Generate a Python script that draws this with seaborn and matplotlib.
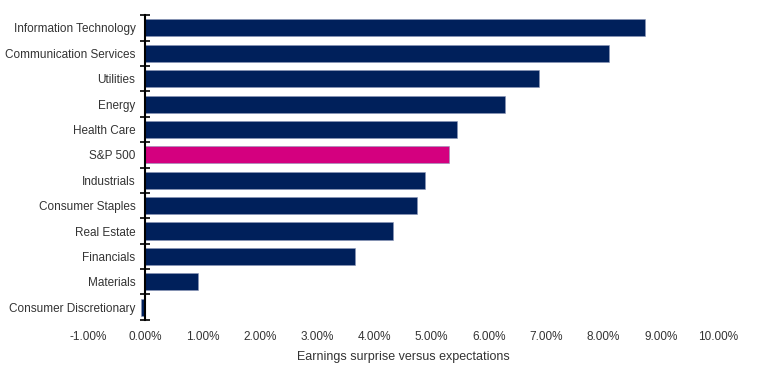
import numpy as np
import pandas as pd
import seaborn as sns
import matplotlib.pyplot as plt
from matplotlib.ticker import FixedLocator, PercentFormatter

# Data (percent)
sectors = [
    "Information Technology", "Communication Services", "Utilities", "Energy",
    "Health Care", "S&P 500", "Industrials", "Consumer Staples", "Real Estate",
    "Financials", "Materials", "Consumer Discretionary",
]
surprise = [8.73, 8.09, 6.87, 6.29, 5.45, 5.30, 4.89, 4.75, 4.32, 3.67, 0.93, -0.08]
kind = ["Sector" if s != "S&P 500" else "Index" for s in sectors]

df = pd.DataFrame({"sector": sectors, "surprise": surprise, "kind": kind})

NAVY = "#00205B"
PINK = "#D4007F"
TEXT = "#333333"

sns.set_theme(style="white")
plt.rcParams["font.family"] = ["Liberation Sans", "DejaVu Sans"]
plt.rcParams["axes.unicode_minus"] = False

fig = plt.figure(figsize=(7.57, 3.79), dpi=100)
ax = fig.add_axes([0.116, 0.156, 0.8325, 0.804])

sns.barplot(
    data=df,
    x="surprise",
    y="sector",
    hue="kind",
    palette={"Sector": NAVY, "Index": PINK},
    saturation=1,
    order=sectors,
    orient="h",
    width=0.67,
    dodge=False,
    legend=False,
    edgecolor="#8a96b8",
    linewidth=0.4,
    ax=ax,
)

ax.set_xlim(-1, 10)
ax.set_ylim(len(sectors) - 0.5, -0.5)
ax.xaxis.set_major_locator(FixedLocator(np.arange(-1, 11, 1)))
ax.xaxis.set_major_formatter(PercentFormatter(decimals=2))

for side in ["top", "right", "bottom"]:
    ax.spines[side].set_visible(False)
ax.spines["left"].set_position(("data", 0))
ax.spines["left"].set_color("black")
ax.spines["left"].set_linewidth(1.5)

# labels at category centers, tick marks between categories
ax.tick_params(axis="y", which="major", length=0, pad=7, labelsize=8.5, labelcolor=TEXT)
ax.yaxis.set_minor_locator(FixedLocator(np.arange(-0.5, len(sectors), 1)))
ax.tick_params(axis="y", which="minor", length=7, width=1.2, direction="inout", color="black", left=True)
ax.tick_params(axis="x", length=0, pad=8, labelsize=8.5, labelcolor=TEXT)

ax.set_ylabel("")
ax.set_xlabel("Earnings surprise versus expectations", fontsize=9, color=TEXT, labelpad=6)

fig.savefig("out.png", dpi=100)
